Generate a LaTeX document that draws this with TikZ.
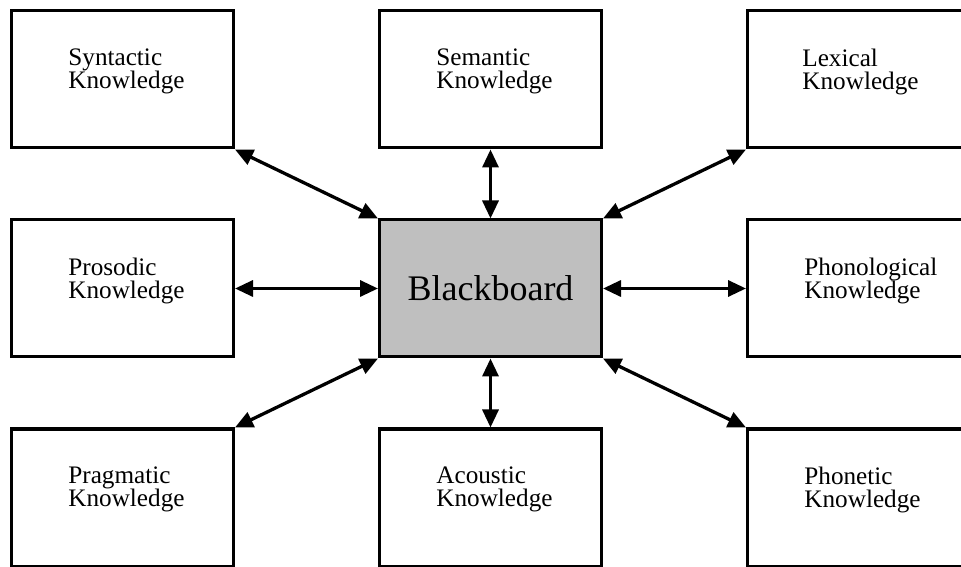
\documentclass[tikz,border=0pt]{standalone}
\usepackage{fontspec}
\setmainfont{Liberation Serif}
\usetikzlibrary{arrows.meta, positioning}

\begin{document}
\begin{tikzpicture}[node distance=104.5pt and 184pt,on grid,
	kbox/.style={draw, line width=1.5pt, minimum width=111pt, minimum height=68.5pt, inner sep=0pt},
	ktext/.style={anchor=north west, align=left, inner sep=0pt, font=\fontsize{12.6pt}{11.5pt}\selectfont},
	link/.style={{Triangle[length=9pt,width=8pt]}-{Triangle[length=9pt,width=8pt]}, line width=1.65pt}]
	
	\useasboundingbox (-245.25pt,-138.75pt) rectangle (235.25pt,144.25pt);
	
	\node (bb) [kbox, fill=black!25, font=\fontsize{18pt}{20pt}\selectfont] at (0,0) {Blackboard};
	\node (pro) [kbox, left = of bb] {};
	\node (phl) [kbox, right = of bb] {};
	\node (sem) [kbox, above = of bb] {};
	\node (aco) [kbox, below = of bb] {};
	\node (syn) [kbox, above = of pro] {};
	\node (lex) [kbox, above = of phl] {};
	\node (pra) [kbox, below = of pro] {};
	\node (pht) [kbox, below = of phl] {};
	
	\node (syn-t) [ktext] at ([shift={(29pt,-19.5pt)}]syn.north west) {Syntactic\\Knowledge};
	\node (sem-t) [ktext] at ([shift={(29pt,-19.5pt)}]sem.north west) {Semantic\\Knowledge};
	\node (lex-t) [ktext] at ([shift={(28pt,-19.5pt)}]lex.north west) {Lexical\\Knowledge};
	\node (pro-t) [ktext] at ([shift={(29pt,-19.5pt)}]pro.north west) {Prosodic\\Knowledge};
	\node (phl-t) [ktext] at ([shift={(29pt,-19.5pt)}]phl.north west) {Phonological\\Knowledge};
	\node (pra-t) [ktext] at ([shift={(29pt,-19.5pt)}]pra.north west) {Pragmatic\\Knowledge};
	\node (aco-t) [ktext] at ([shift={(29pt,-19.5pt)}]aco.north west) {Acoustic\\Knowledge};
	\node (pht-t) [ktext] at ([shift={(29pt,-19.5pt)}]pht.north west) {Phonetic\\Knowledge};
	
	\draw [link] (syn.south east) -- (bb.north west);
	\draw [link] (sem) -- (bb);
	\draw [link] (lex.south west) -- (bb.north east);
	\draw [link] (pro) -- (bb);
	\draw [link] (phl) -- (bb);
	\draw [link] (pra.north east) -- (bb.south west);
	\draw [link] (aco) -- (bb);
	\draw [link] (pht.north west) -- (bb.south east);
\end{tikzpicture}
\end{document}
